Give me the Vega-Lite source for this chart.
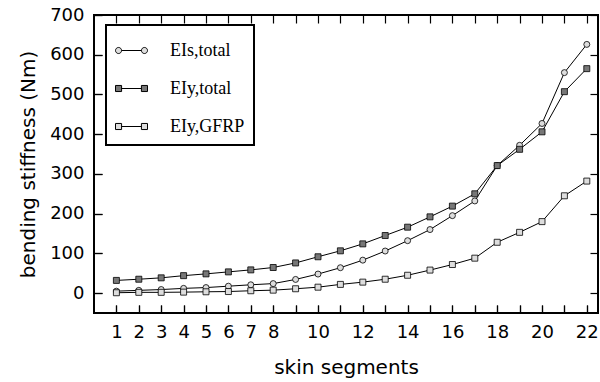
{
  "$schema": "https://vega.github.io/schema/vega-lite/v6.json",
  "autosize": {"type": "none"},
  "padding": {"left": 94, "top": 15, "right": 2, "bottom": 69},
  "width": 504,
  "height": 298,
  "data": {
    "values": [
      {"seg": 1, "series": "s_total", "v": 5},
      {"seg": 2, "series": "s_total", "v": 7},
      {"seg": 3, "series": "s_total", "v": 9},
      {"seg": 4, "series": "s_total", "v": 12},
      {"seg": 5, "series": "s_total", "v": 14},
      {"seg": 6, "series": "s_total", "v": 17.5},
      {"seg": 7, "series": "s_total", "v": 21},
      {"seg": 8, "series": "s_total", "v": 24},
      {"seg": 9, "series": "s_total", "v": 34.5},
      {"seg": 10, "series": "s_total", "v": 48},
      {"seg": 11, "series": "s_total", "v": 64},
      {"seg": 12, "series": "s_total", "v": 83},
      {"seg": 13, "series": "s_total", "v": 106},
      {"seg": 14, "series": "s_total", "v": 132},
      {"seg": 15, "series": "s_total", "v": 160},
      {"seg": 16, "series": "s_total", "v": 195},
      {"seg": 17, "series": "s_total", "v": 232},
      {"seg": 18, "series": "s_total", "v": 321},
      {"seg": 19, "series": "s_total", "v": 372},
      {"seg": 20, "series": "s_total", "v": 427},
      {"seg": 21, "series": "s_total", "v": 555},
      {"seg": 22, "series": "s_total", "v": 626},
      {"seg": 1, "series": "y_total", "v": 32},
      {"seg": 2, "series": "y_total", "v": 35},
      {"seg": 3, "series": "y_total", "v": 38.5},
      {"seg": 4, "series": "y_total", "v": 44},
      {"seg": 5, "series": "y_total", "v": 48.5},
      {"seg": 6, "series": "y_total", "v": 53.5},
      {"seg": 7, "series": "y_total", "v": 58.5},
      {"seg": 8, "series": "y_total", "v": 64.5},
      {"seg": 9, "series": "y_total", "v": 76},
      {"seg": 10, "series": "y_total", "v": 91.5},
      {"seg": 11, "series": "y_total", "v": 106.5},
      {"seg": 12, "series": "y_total", "v": 124},
      {"seg": 13, "series": "y_total", "v": 145},
      {"seg": 14, "series": "y_total", "v": 166},
      {"seg": 15, "series": "y_total", "v": 192},
      {"seg": 16, "series": "y_total", "v": 219},
      {"seg": 17, "series": "y_total", "v": 250},
      {"seg": 18, "series": "y_total", "v": 321},
      {"seg": 19, "series": "y_total", "v": 362},
      {"seg": 20, "series": "y_total", "v": 406},
      {"seg": 21, "series": "y_total", "v": 507},
      {"seg": 22, "series": "y_total", "v": 565},
      {"seg": 1, "series": "y_GFRP", "v": 1},
      {"seg": 2, "series": "y_GFRP", "v": 2},
      {"seg": 3, "series": "y_GFRP", "v": 2},
      {"seg": 4, "series": "y_GFRP", "v": 2.5},
      {"seg": 5, "series": "y_GFRP", "v": 3.4},
      {"seg": 6, "series": "y_GFRP", "v": 4},
      {"seg": 7, "series": "y_GFRP", "v": 6},
      {"seg": 8, "series": "y_GFRP", "v": 7.5},
      {"seg": 9, "series": "y_GFRP", "v": 11},
      {"seg": 10, "series": "y_GFRP", "v": 15},
      {"seg": 11, "series": "y_GFRP", "v": 22},
      {"seg": 12, "series": "y_GFRP", "v": 27.7},
      {"seg": 13, "series": "y_GFRP", "v": 35},
      {"seg": 14, "series": "y_GFRP", "v": 45},
      {"seg": 15, "series": "y_GFRP", "v": 58},
      {"seg": 16, "series": "y_GFRP", "v": 72},
      {"seg": 17, "series": "y_GFRP", "v": 88},
      {"seg": 18, "series": "y_GFRP", "v": 128},
      {"seg": 19, "series": "y_GFRP", "v": 153},
      {"seg": 20, "series": "y_GFRP", "v": 180},
      {"seg": 21, "series": "y_GFRP", "v": 245},
      {"seg": 22, "series": "y_GFRP", "v": 282}
    ]
  },
  "encoding": {
    "x": {"field": "seg", "type": "quantitative", "scale": {"domain": [0, 22.5], "nice": false, "zero": false}},
    "y": {"field": "v", "type": "quantitative", "scale": {"domain": [-50, 700], "nice": false, "zero": false}}
  },
  "resolve": {"axis": {"x": "independent", "y": "independent"}},
  "layer": [
    {
      "mark": {"type": "line", "color": "black", "strokeWidth": 1},
      "encoding": {
        "x": {
          "field": "seg", "type": "quantitative",
          "axis": {
            "orient": "bottom",
            "values": [1,2,3,4,5,6,7,8,9,10,11,12,13,14,15,16,17,18,19,20,21,22],
            "labelExpr": "(datum.value <= 8 || datum.value % 2 == 0) ? datum.label : ''",
            "title": "skin segments",
            "titlePadding": 16
          }
        },
        "y": {
          "field": "v", "type": "quantitative",
          "axis": {
            "orient": "left",
            "values": [0,100,200,300,400,500,600,700],
            "title": "bending stiffness (Nm)",
            "titlePadding": 11
          }
        },
        "detail": {"field": "series"}
      }
    },
    {
      "transform": [{"filter": "datum.series === 's_total'"}],
      "mark": {"type": "point", "shape": "circle", "filled": true, "stroke": "black", "strokeWidth": 0.8, "size": 36, "opacity": 1},
      "encoding": {
        "x": {
          "field": "seg", "type": "quantitative",
          "axis": {
            "orient": "top",
            "values": [1,2,3,4,5,6,7,8,9,10,11,12,13,14,15,16,17,18,19,20,21,22],
            "labels": false, "title": null
          }
        },
        "y": {
          "field": "v", "type": "quantitative",
          "axis": {
            "orient": "right",
            "values": [0,100,200,300,400,500,600,700],
            "labels": false, "title": null
          }
        },
        "fill": {"field": "series", "type": "nominal"}
      }
    },
    {
      "transform": [{"filter": "datum.series !== 's_total'"}],
      "mark": {"type": "point", "shape": "square", "filled": true, "stroke": "black", "strokeWidth": 0.8, "size": 36, "opacity": 1},
      "encoding": {
        "x": {
          "field": "seg", "type": "quantitative",
          "axis": {
            "orient": "bottom",
            "values": [1,2,3,4,5,6,7,8,9,10,11,12,13,14,15,16,17,18,19,20,21,22],
            "labels": false, "title": null
          }
        },
        "y": {
          "field": "v", "type": "quantitative",
          "axis": {
            "orient": "left",
            "values": [0,100,200,300,400,500,600,700],
            "labels": false, "title": null
          }
        },
        "fill": {"field": "series", "type": "nominal"}
      }
    },
    {
      "mark": {"type": "point", "filled": true, "stroke": "black", "strokeWidth": 1, "size": 0},
      "encoding": {
        "x": {"field": "seg", "type": "quantitative", "axis": null},
        "y": {"field": "v", "type": "quantitative", "axis": null},
        "shape": {
          "field": "series", "type": "nominal",
          "scale": {"domain": ["s_total", "y_total", "y_GFRP"], "range": [
            "M-0.62,0L0.62,0M-0.62,0A0.19,0.19 0 1,0 -1,0A0.19,0.19 0 1,0 -0.62,0ZM1,0A0.19,0.19 0 1,0 0.62,0A0.19,0.19 0 1,0 1,0Z",
            "M-0.62,0L0.62,0M-1,-0.19H-0.62V0.19H-1ZM0.62,-0.19H1V0.19H0.62Z",
            "M-0.62,0L0.62,0M-1,-0.19H-0.62V0.19H-1ZM0.62,-0.19H1V0.19H0.62Z"
          ]},
          "legend": {
            "title": null,
            "orient": "none",
            "legendX": 12,
            "legendY": 10,
            "padding": 9,
            "rowPadding": 12,
            "strokeColor": "black",
            "fillColor": "white",
            "labelFont": "Liberation Serif",
            "labelFontSize": 18,
            "labelColor": "black",
            "labelOffset": 22,
            "symbolSize": 1024,
            "symbolStrokeColor": "black",
            "symbolStrokeWidth": 1,
            "labelExpr": "datum.value === 's_total' ? 'EIs,total' : (datum.value === 'y_total' ? 'EIy,total' : 'EIy,GFRP')"
          }
        },
        "fill": {
          "field": "series", "type": "nominal",
          "scale": {"domain": ["s_total", "y_total", "y_GFRP"], "range": ["#dddddd", "#777777", "#dddddd"]},
          "legend": {
            "title": null,
            "orient": "none",
            "legendX": 12,
            "legendY": 10,
            "padding": 9,
            "rowPadding": 12,
            "strokeColor": "black",
            "fillColor": "white",
            "labelFont": "Liberation Serif",
            "labelFontSize": 18,
            "labelColor": "black",
            "labelOffset": 22,
            "symbolSize": 1024,
            "symbolStrokeColor": "black",
            "symbolStrokeWidth": 1,
            "labelExpr": "datum.value === 's_total' ? 'EIs,total' : (datum.value === 'y_total' ? 'EIy,total' : 'EIy,GFRP')"
          }
        }
      }
    }
  ],
  "config": {
    "view": {"stroke": "black", "strokeWidth": 2},
    "legend": {"strokeWidth": 2},
    "axis": {
      "zindex": 1,
      "domain": false,
      "grid": false,
      "ticks": true,
      "offset": -8,
      "tickSize": 8,
      "tickColor": "black",
      "tickWidth": 1.2,
      "labelPadding": 10,
      "labelFont": "DejaVu Sans",
      "labelFontSize": 18,
      "labelColor": "black",
      "titleFont": "DejaVu Sans",
      "titleFontSize": 20,
      "titleFontWeight": "normal",
      "titleColor": "black"
    }
  }
}
